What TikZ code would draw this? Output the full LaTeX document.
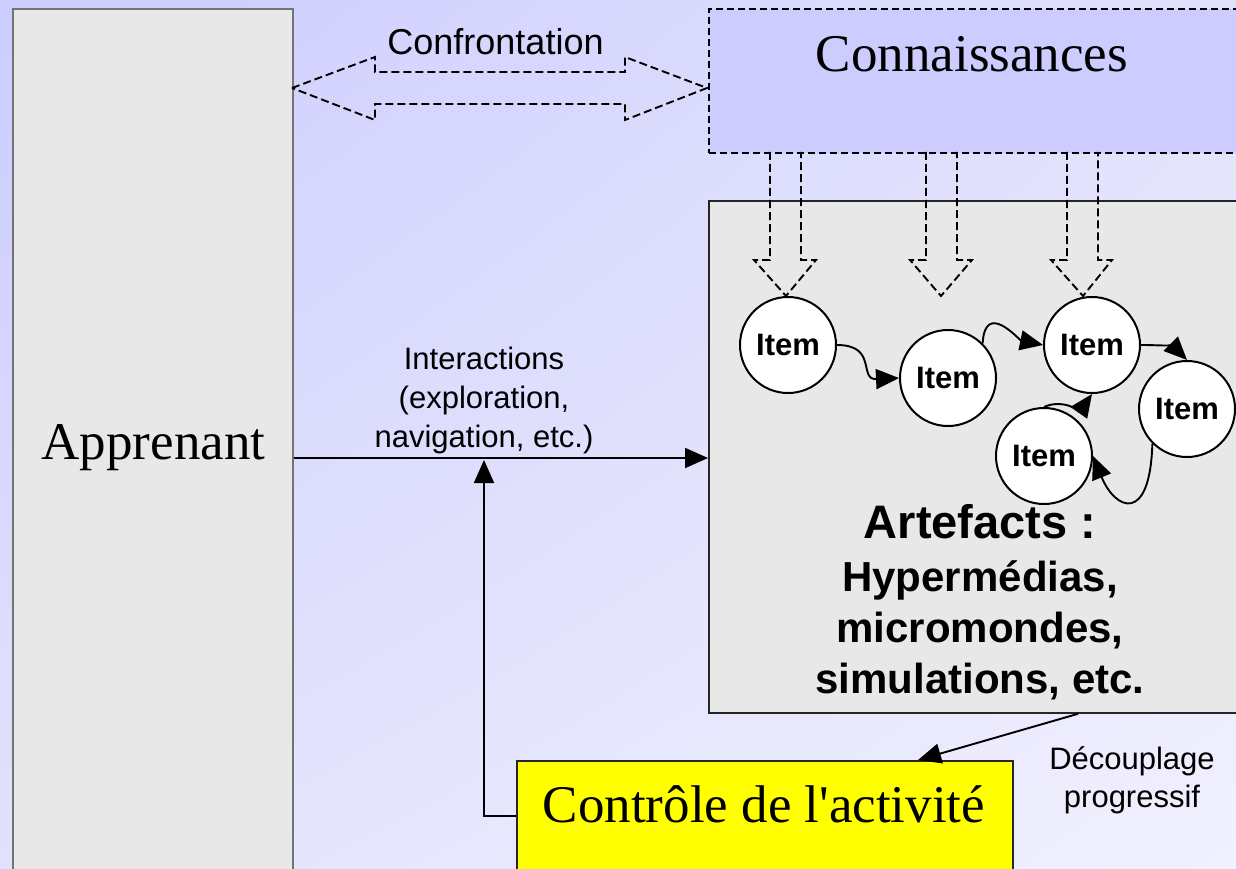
\documentclass[tikz,border=0pt]{standalone}
\usepackage{fontspec}
\setmainfont{Liberation Serif}
\newfontfamily\arial{Liberation Sans}
\usetikzlibrary{arrows.meta,shadings}
\definecolor{bgA}{RGB}{204,204,255}
\definecolor{bgB}{RGB}{226,226,252}
\definecolor{bgC}{RGB}{226,226,252}
\definecolor{bgD}{RGB}{240,240,254}
\definecolor{panelgray}{RGB}{232,232,232}
\definecolor{knowblue}{RGB}{204,204,255}
\definecolor{ctrlyellow}{RGB}{255,255,0}
\begin{document}
\begin{tikzpicture}[x=1pt,y=-1pt,
  panel/.style={draw=black!85, line width=1.8pt, fill=panelgray, inner sep=0pt, anchor=north west},
  knowpanel/.style={draw=black, line width=1.8pt, dash pattern=on 7pt off 4pt, fill=knowblue, inner sep=0pt, anchor=north west},
  ctrlpanel/.style={draw=black!85, line width=1.8pt, fill=ctrlyellow, inner sep=0pt, anchor=north west},
  serifbig/.style={font=\fontsize{53}{60}\selectfont, anchor=base, inner sep=0pt},
  sanslabel/.style={font=\arial\fontsize{31}{36}\selectfont, anchor=base, inner sep=0pt},
  sanstitle/.style={font=\arial\fontsize{36}{40}\selectfont, anchor=base, inner sep=0pt},
  boldlabel/.style={font=\arial\bfseries\fontsize{42}{48}\selectfont, anchor=base, inner sep=0pt},
  boldtitle/.style={font=\arial\bfseries\fontsize{47}{52}\selectfont, anchor=base, inner sep=0pt},
  item/.style={circle, draw, line width=2pt, fill=white, minimum size=96pt, inner sep=0pt,
    font=\arial\bfseries\fontsize{31}{34}\selectfont},
  arr/.style={line width=1.9pt, -{Triangle[length=23pt,width=20pt]}},
  hollow/.style={line width=1.9pt, dash pattern=on 8pt off 4pt, line join=miter}
]
\useasboundingbox (0,0) rectangle (1236,869);
\clip (0,0) rectangle (1236,869);

% background
\shade[upper left=bgA, upper right=bgB, lower left=bgC, lower right=bgD] (0,0) rectangle (1236,869);

% panels
\node[panel, draw=black!55, minimum width=280pt, minimum height=880pt] (app) at (12,8) {};
\node[knowpanel, minimum width=540pt, minimum height=144pt] (know) at (708,8) {};
\node[panel, minimum width=540pt, minimum height=512pt] (art) at (708,200) {};
\node[ctrlpanel, minimum width=496pt, minimum height=120pt] (ctrl) at (516,760) {};

% panel titles
\node[serifbig] (apptxt) at (153.5,459) {Apprenant};
\node[serifbig] (knowtxt) at (972,72) {Connaissances};
\node[serifbig] (ctrltxt) at (764,822) {Contrôle de l\textquotesingle activité};

% confrontation (hollow double arrow)
\draw[hollow] (292,88) -- (375,57) -- (375,72) -- (625,72) -- (625,57) -- (707,88)
  -- (625,120) -- (625,104) -- (375,104) -- (375,120) -- cycle;
\node[sanstitle] (conf) at (495.5,55) {Confrontation};

% knowledge flowing into the artefacts
\draw[hollow] (770,152) -- (770,260) -- (754,260) -- (786,296) -- (816,260) -- (801,260) -- (801,152);
\draw[hollow] (926,152) -- (926,260) -- (910,260) -- (941,296) -- (972,260) -- (957,260) -- (957,152);
\draw[hollow] (1067,152) -- (1067,260) -- (1051,260) -- (1083,296) -- (1112,260) -- (1098,260) -- (1098,152);

% items
\node[item] (i1) at (788,345) {Item};
\node[item] (i2) at (948,378) {Item};
\node[item] (i3) at (1092,345) {Item};
\node[item] (i4) at (1187,409) {Item};
\node[item] (i5) at (1044,456) {Item};

\draw[arr] (i1.east) .. controls (878,345) and (858,380) .. (i2.west);
\draw[arr] (i2.45) .. controls (985,300) and (1019,340) .. (i3.west);
\draw[arr] (i3.east) to[out=0,in=135] (i4.north);
\draw[arr] (i4.225) .. controls (1150,525) and (1115,510) .. (i5.east);
\draw[arr] (i5.north) to[out=25,in=235] (i3.south);

% artefacts caption
\node[boldtitle] (arttitle) at (980,538) {Artefacts :};
\node[boldlabel] (artl1) at (980,591) {Hypermédias,};
\node[boldlabel] (artl2) at (980,642) {micromondes,};
\node[boldlabel] (artl3) at (980,693) {simulations, etc.};

% interactions
\coordinate (meet) at (484,460);
\draw[arr] (app.east |- 0,458) -- (art.west |- 0,458);
\node[sanslabel] (int1) at (484,369) {Interactions};
\node[sanslabel] (int2) at (484,408) {(exploration,};
\node[sanslabel] (int3) at (484,447) {navigation, etc.)};

% control loop
\draw[arr] (ctrl.west |- 0,816) -| (meet);
\draw[arr] (1078,0 |- art.south) -- (918,0 |- ctrl.north);
\node[sanslabel] (dec1) at (1132,769) {Découplage};
\node[sanslabel] (dec2) at (1132,807) {progressif};
\end{tikzpicture}
\end{document}
